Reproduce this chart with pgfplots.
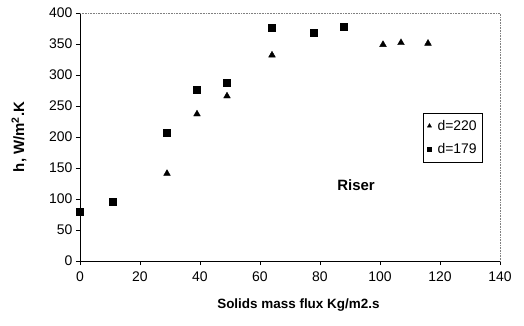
\documentclass[border=0pt]{standalone}
\usepackage{pgfplots}
\pgfplotsset{compat=1.18}
\usepackage{fontspec}
\setmainfont{Liberation Sans}
\begin{document}
\begin{tikzpicture}
\path[use as bounding box] (-80bp,-65bp) rectangle (444bp,261bp);
\begin{axis}[
  scale only axis,
  width=420bp, height=248bp,
  xmin=0, xmax=140, ymin=0, ymax=400,
  xtick={0,20,...,140}, ytick={0,50,...,400},
  axis x line*=bottom, axis y line*=left,
  axis line style={black, line width=0.6pt},
  tick align=outside, major tick length=4bp,
  tick style={black, line width=0.6pt},
  /pgf/number format/assume math mode=true,
  ticklabel style={font=\fontsize{14}{16}\selectfont},
  xticklabel style={yshift=-3bp},
  xlabel={\textbf{Solids mass flux Kg/m2.s}},
  ylabel={\textbf{h, W/m\textsuperscript{2}.K}},
  xlabel style={font=\fontsize{13.5}{15}\selectfont, at={(axis description cs:0.52,-0.177)}, anchor=center},
  ylabel style={font=\fontsize{15}{17}\selectfont, at={(axis description cs:-0.145,0.5)}, anchor=center},
  legend style={at={(0.817,0.597)}, anchor=north west, draw=black, line width=0.5pt,
    font=\fontsize{14}{16}\selectfont, row sep=8pt, inner xsep=4pt, inner ysep=5pt},
  legend cell align=left,
  legend image post style={scale=0.6},
  clip=false,
]
\draw[densely dotted, gray, line width=0.6pt] (rel axis cs:0,1) -- (rel axis cs:1,1) -- (rel axis cs:1,0);
\addplot[only marks, mark=triangle*, mark size=3.9pt, black] coordinates {
  (29,141) (39,237) (49,266) (64,332) (101,349) (107,352) (116,351)
};
\addlegendentry{\hspace{4pt}d=220}
\addplot[only marks, mark=square*, mark size=3.5pt, black] coordinates {
  (0,80) (11,95) (29,207) (39,277) (49,288) (64,376) (78,369) (88,378)
};
\addlegendentry{\hspace{4pt}d=179}
\node[font=\bfseries\fontsize{15}{17}\selectfont] at (axis cs:92,123) {Riser};
\end{axis}
\end{tikzpicture}
\end{document}
